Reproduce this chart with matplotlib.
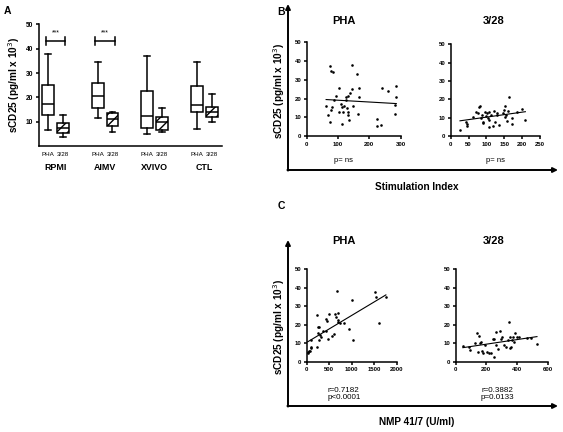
import numpy as np
import matplotlib
matplotlib.use('Agg')
import matplotlib.pyplot as plt

plt.rcParams['font.family'] = ['Liberation Sans', 'DejaVu Sans']
plt.rcParams['hatch.linewidth'] = 1.0

######## data
## panel A: box summaries per medium (whisker low, Q1, median, Q3, whisker high)
groups = ['RPMI', 'AIMV', 'XVIVO', 'CTL']
conditions = ['PHA', '3/28']
pha_whislo = [6.5, 11.6, 5.1, 7.2]
pha_q1 = [12.6, 15.7, 7.6, 14.0]
pha_med = [17.2, 20.6, 12.5, 17.0]
pha_q3 = [25.1, 26.0, 22.5, 24.5]
pha_whishi = [38.0, 34.5, 37.2, 34.7]
c328_whislo = [3.6, 5.6, 5.8, 9.9]
c328_q1 = [5.2, 8.3, 6.6, 11.8]
c328_med = [7.3, 11.0, 10.0, 13.8]
c328_q3 = [9.6, 13.7, 12.0, 16.0]
c328_whishi = [12.8, 13.9, 15.6, 21.3]
signif = ['***', '***', '', '']

## panel B: sCD25 vs stimulation index
si_pha_x = [62, 67, 75, 77, 83, 75, 77, 86, 82, 95, 102, 102, 110, 114, 114, 116, 120, 124,
            127, 131, 129, 131, 131, 135, 138, 145, 146, 148, 161, 164, 167, 168, 224, 224,
            237, 240, 258, 282, 282, 286, 286]
si_pha_y = [16.0, 11.4, 37.4, 34.7, 34.3, 7.3, 13.9, 19.2, 15.3, 21.4, 25.4, 13.0, 16.9, 15.7,
            6.2, 13.0, 16.0, 19.2, 20.6, 21.4, 14.8, 13.0, 11.2, 8.5, 23.1, 25.0, 37.9, 16.0,
            32.9, 11.6, 20.6, 25.8, 9.1, 5.3, 6.0, 25.6, 24.2, 16.5, 11.6, 26.7, 20.6]
si_328_x = [26, 43, 45, 46, 63, 70, 77, 80, 83, 84, 87, 90, 91, 95, 99, 102, 104, 106, 107,
            108, 114, 119, 121, 125, 129, 131, 134, 146, 148, 151, 152, 155, 158, 161, 164,
            172, 173, 185, 200, 209]
si_328_y = [3.3, 7.5, 6.4, 5.5, 10.5, 13.3, 12.4, 16.0, 16.5, 9.6, 11.5, 7.8, 6.9, 12.9, 10.9,
            12.4, 9.6, 5.1, 8.7, 12.9, 11.3, 5.6, 13.6, 7.8, 11.5, 12.4, 6.0, 12.7, 14.2, 10.5,
            16.5, 11.5, 8.2, 13.8, 21.5, 9.6, 6.4, 13.3, 14.5, 8.7]

## panel C: sCD25 vs NMP 41/7
nmp_pha_x = [22, 37, 59, 81, 89, 104, 96, 230, 237, 252, 274, 244, 281, 296, 326, 370, 422,
             422, 459, 481, 504, 563, 607, 622, 652, 667, 689, 689, 696, 741, 830, 948, 1000,
             1022, 1519, 1541, 1600, 1760]
nmp_pha_y = [4.9, 5.4, 5.6, 5.9, 7.2, 8.1, 11.7, 8.1, 25.4, 18.5, 18.9, 15.3, 11.7, 14.2, 13.1,
             16.5, 16.5, 22.8, 21.8, 12.0, 25.9, 14.0, 14.7, 25.5, 24.3, 38.1, 26.1, 22.5, 21.2,
             20.7, 20.7, 17.4, 33.1, 11.7, 37.4, 34.7, 20.7, 35.1]
nmp_328_x = [47, 89, 94, 126, 138, 147, 153, 157, 164, 172, 177, 189, 202, 215, 232, 249, 245,
             253, 262, 266, 277, 291, 296, 304, 313, 326, 338, 349, 351, 355, 360, 366, 372,
             377, 389, 402, 415, 466, 494, 530]
nmp_328_y = [8.5, 8.1, 6.3, 10.3, 15.3, 5.4, 13.8, 9.9, 10.8, 5.8, 4.9, 9.0, 5.4, 4.9, 4.5,
             2.7, 12.1, 12.4, 16.2, 9.0, 6.7, 16.5, 12.4, 13.1, 8.8, 8.1, 11.7, 21.6, 13.1, 7.2,
             8.1, 11.7, 13.1, 10.8, 15.6, 13.1, 13.1, 12.6, 12.6, 9.5]
nmp_stats = ['r=0.7182\np<0.0001', 'r=0.3882\np=0.0133']
si_stats = ['p= ns', 'p= ns']

fig = plt.figure(figsize=(5.63, 4.32), dpi=100)

## background layer in pixel coordinates for arrows / labels
bg = fig.add_axes([0, 0, 1, 1])
bg.set_xlim(0, 563)
bg.set_ylim(432, 0)
bg.axis('off')

def style_axes(ax, size=4.3):
    for s in ['top', 'right']:
        ax.spines[s].set_visible(False)
    for s in ['left', 'bottom']:
        ax.spines[s].set_linewidth(1.1)
    ax.tick_params(direction='out', length=2.5, width=1.1, pad=1.5, labelsize=size)
    for lab in ax.get_xticklabels() + ax.get_yticklabels():
        lab.set_fontweight('bold')

################ panel A
axA = fig.add_axes([39/563, 1-146/432, 183/563, 121.5/432])
centers = np.arange(1, len(groups)+1)
pos_pha = centers - 0.15
pos_328 = centers + 0.15
stats_pha = [dict(whislo=a, q1=b, med=c, q3=d, whishi=e, fliers=[])
             for a, b, c, d, e in zip(pha_whislo, pha_q1, pha_med, pha_q3, pha_whishi)]
stats_328 = [dict(whislo=a, q1=b, med=c, q3=d, whishi=e, fliers=[])
             for a, b, c, d, e in zip(c328_whislo, c328_q1, c328_med, c328_q3, c328_whishi)]
lprops = dict(color='black', linewidth=1.1)
bp1 = axA.bxp(stats_pha, positions=pos_pha, widths=0.24, patch_artist=True, showfliers=False,
              boxprops=dict(facecolor='white', edgecolor='black', linewidth=1.1),
              medianprops=lprops, whiskerprops=lprops, capprops=lprops)
bp2 = axA.bxp(stats_328, positions=pos_328, widths=0.24, patch_artist=True, showfliers=False,
              boxprops=dict(facecolor='white', edgecolor='black', linewidth=1.1, hatch='///'),
              medianprops=lprops, whiskerprops=lprops, capprops=lprops)
axA.set_xlim(0.667, 4.36)
axA.set_ylim(0, 50)
axA.set_yticks([10, 20, 30, 40, 50])
ticks = np.ravel(np.column_stack([pos_pha, pos_328]))
axA.set_xticks(ticks)
axA.set_xticklabels(conditions * len(groups))
style_axes(axA, 4.8)
axA.tick_params(axis='x', length=0, pad=4, labelsize=4.5)
for lab in axA.get_xticklabels():
    lab.set_fontweight('normal')
for c, g in zip(centers, groups):
    axA.text(c, -0.175, g, transform=axA.get_xaxis_transform(), ha='center', va='center',
             fontsize=6.4, fontweight='bold')
## significance brackets
for i, s in enumerate(signif):
    if s:
        x1, x2 = pos_pha[i] - 0.05, pos_328[i] + 0.05
        axA.plot([x1, x2], [43.2, 43.2], color='black', lw=1.1)
        axA.plot([x1, x1], [41.6, 44.8], color='black', lw=1.1)
        axA.plot([x2, x2], [41.6, 44.8], color='black', lw=1.1)
        axA.text((x1+x2)/2, 46.5, s, ha='center', va='center', fontsize=5)
axA.set_ylabel('sCD25 (pg/ml x 10$^3$)', fontsize=7.2, fontweight='bold', labelpad=3)

################ panels B and C: scatter with regression
def scatter_panel(rect, x, y, xmax, xticks):
    ax = fig.add_axes(rect)
    ax.scatter(x, y, s=3.5, color='black', linewidths=0, zorder=3, clip_on=False)
    k, b = np.polyfit(x, y, 1)
    xx = np.array([min(x), max(x)])
    ax.plot(xx, k*xx + b, color='black', lw=0.8)
    ax.set_xlim(0, xmax)
    ax.set_ylim(0, 50)
    ax.set_xticks(xticks)
    ax.set_yticks([0, 10, 20, 30, 40, 50])
    style_axes(ax)
    return ax

scatter_panel([306.7/563, 1-136/432, 94/563, 93.7/432], si_pha_x, si_pha_y, 300, [0, 100, 200, 300])
scatter_panel([450.7/563, 1-136/432, 89.3/563, 91.7/432], si_328_x, si_328_y, 250, [0, 50, 100, 150, 200, 250])
scatter_panel([306.7/563, 1-361.7/432, 90/563, 92.7/432], nmp_pha_x, nmp_pha_y, 2000, [0, 500, 1000, 1500, 2000])
scatter_panel([455.7/563, 1-361.7/432, 92/563, 92.7/432], nmp_328_x, nmp_328_y, 600, [0, 200, 400, 600])

## outer arrows
arw = dict(arrowstyle='-|>', lw=1.4, color='black', mutation_scale=7, shrinkA=0, shrinkB=0)
for top, bottom in [(4, 170), (240, 406)]:
    bg.annotate('', xy=(288, top), xytext=(288, bottom+0.6), arrowprops=arw)
    bg.annotate('', xy=(558, bottom), xytext=(287.4, bottom), arrowprops=arw)
    bg.text(279, (top + bottom)/2 + 4, 'sCD25 (pg/ml x 10$^3$)', rotation=90, ha='center',
            va='center', fontsize=7.2, fontweight='bold')

## panel letters and titles
bg.text(7, 11, 'A', fontsize=7.5, fontweight='bold', ha='center', va='center')
bg.text(281, 12, 'B', fontsize=7.5, fontweight='bold', ha='center', va='center')
bg.text(281, 206, 'C', fontsize=7.5, fontweight='bold', ha='center', va='center')
for ty in [21, 241]:
    bg.text(344, ty, 'PHA', fontsize=8, fontweight='bold', ha='center', va='center')
    bg.text(494, ty, '3/28', fontsize=8, fontweight='bold', ha='center', va='center')
bg.text(344, 161, si_stats[0], fontsize=5.5, ha='center', va='center')
bg.text(495, 161, si_stats[1], fontsize=5.5, ha='center', va='center')
bg.text(328, 394, nmp_stats[0], fontsize=5.8, ha='left', va='center', linespacing=1.1)
bg.text(481, 394, nmp_stats[1], fontsize=5.8, ha='left', va='center', linespacing=1.1)
bg.text(417, 187, 'Stimulation Index', fontsize=7.2, fontweight='bold', ha='center', va='center')
bg.text(417, 422, 'NMP 41/7 (U/ml)', fontsize=7.2, fontweight='bold', ha='center', va='center')

plt.savefig('out.png', dpi=100)
